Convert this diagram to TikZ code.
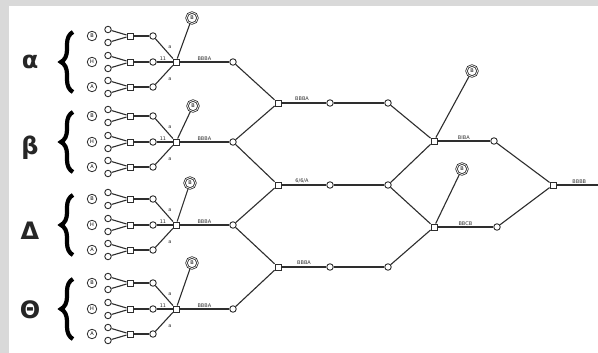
\documentclass[tikz,border=0pt]{standalone}
\usepackage{fontspec}
\setmainfont{DejaVu Sans}
\usetikzlibrary{decorations.pathreplacing}
\definecolor{ln}{HTML}{2E2E2E}
\definecolor{bg}{HTML}{D9D9D9}
\begin{document}
\begin{tikzpicture}[x=1pt,y=-1pt,
  wire/.style={draw=ln, line width=1.1pt},
  sq/.style={draw=ln, fill=white, line width=0.9pt, minimum size=6pt, inner sep=0pt},
  circ/.style={circle, draw=ln, fill=white, line width=0.9pt, minimum size=6.5pt, inner sep=0pt},
  letc/.style={circle, draw=ln, line width=0.8pt, minimum size=9.5pt, inner sep=0pt, font=\fontsize{5}{5}\selectfont},
  topc/.style={circle, draw=ln, double=white, double distance=0.7pt, line width=0.8pt, minimum size=11pt, inner sep=0pt, font=\fontsize{5}{5}\selectfont},
  lab/.style={font=\fontsize{5}{5}\selectfont, text=ln, inner sep=0.8pt},
  gk/.style={font=\fontsize{24}{24}\selectfont\bfseries, text=black!85},
  brc/.style={draw=black, line width=4.2pt, decorate, decoration={brace, amplitude=12pt}}]
\useasboundingbox (0,0) rectangle (598,353);
\fill[white] (0,0) rectangle (598,353);
\fill[bg] (0,0) rectangle (9,353);
\fill[bg] (0,0) rectangle (598,6);

% four input groups
\foreach \g/\H/\tx/\ty/\gl/\gy in {a/62/192/18/α/62, b/142/193/106/β/148, d/225/190/183/Δ/231, t/309/192/263/Θ/310}{
  \node[gk] (G\g) at (30,\gy) {\gl};
  \coordinate (Bb\g) at (73,\H+30);
  \coordinate (Bt\g) at (73,\H-30);
  \draw[brc] (Bb\g) -- (Bt\g);
  \node[sq] (hub\g) at (176,\H) {};
  \node[topc] (T\g) at (\tx,\ty) {B};
  \node[circ] (R\g) at (233,\H) {};
  \foreach \k/\d/\lt in {1/-26/B, 2/0/H, 3/25/A}{
    \node[letc] (L\g\k) at (92,\H+\d) {\lt};
    \node[circ] (Pa\g\k) at (108,\H+\d-6.5) {};
    \node[circ] (Pb\g\k) at (108,\H+\d+6.5) {};
    \node[sq] (J\g\k) at (130,\H+\d) {};
    \node[circ] (C\g\k) at (153,\H+\d) {};
    \draw[wire] (Pa\g\k) -- (J\g\k);
    \draw[wire] (Pb\g\k) -- (J\g\k);
    \draw[wire] (J\g\k) -- (C\g\k);
    \draw[wire] (C\g\k) -- (hub\g);
  }
  \draw[wire] (hub\g) -- (T\g);
  \draw[wire] (hub\g) -- node[lab, above] {BBBA} (R\g);
  \node[lab] (la\g) at (170,\H-15) {a};
  \node[lab] (lb\g) at (163,\H-3.5) {11};
  \node[lab] (lc\g) at (170,\H+17) {a};
}

% middle stage
\foreach \m/\y in {1/103, 2/185, 3/267}{
  \node[sq] (M\m) at (278,\y) {};
  \node[circ] (Ma\m) at (330,\y) {};
  \node[circ] (Mb\m) at (388,\y) {};
  \draw[wire] (M\m) -- (Ma\m);
  \draw[wire] (Ma\m) -- (Mb\m);
}
\node[lab] (ml1) at (302,98.5) {BBBA};
\node[lab] (ml2) at (302,180.5) {6/6/A};
\node[lab] (ml3) at (304,262.5) {BBBA};
\draw[wire] (Ra) -- (M1);
\draw[wire] (Rb) -- (M1);
\draw[wire] (Rb) -- (M2);
\draw[wire] (Rd) -- (M2);
\draw[wire] (Rd) -- (M3);
\draw[wire] (Rt) -- (M3);

% right stage
\node[sq] (Q1) at (434,141) {};
\node[topc] (QT1) at (472,71) {B};
\node[circ] (Qc1) at (494,141) {};
\node[sq] (Q2) at (434,227) {};
\node[topc] (QT2) at (462,169) {B};
\node[circ] (Qc2) at (497,227) {};
\node[sq] (F) at (553,185) {};
\coordinate (Fend) at (598,185);
\draw[wire] (Mb1) -- (Q1);
\draw[wire] (Mb2) -- (Q1);
\draw[wire] (Mb2) -- (Q2);
\draw[wire] (Mb3) -- (Q2);
\draw[wire] (Q1) -- (QT1);
\draw[wire] (Q2) -- (QT2);
\draw[wire] (Q1) -- node[lab, above] {BIBA} (Qc1);
\draw[wire] (Q2) -- node[lab, above] {BBCB} (Qc2);
\draw[wire] (Qc1) -- (F);
\draw[wire] (Qc2) -- (F);
\draw[wire] (F) -- node[lab, above, pos=0.55] {BBBB} (Fend);
\end{tikzpicture}
\end{document}
